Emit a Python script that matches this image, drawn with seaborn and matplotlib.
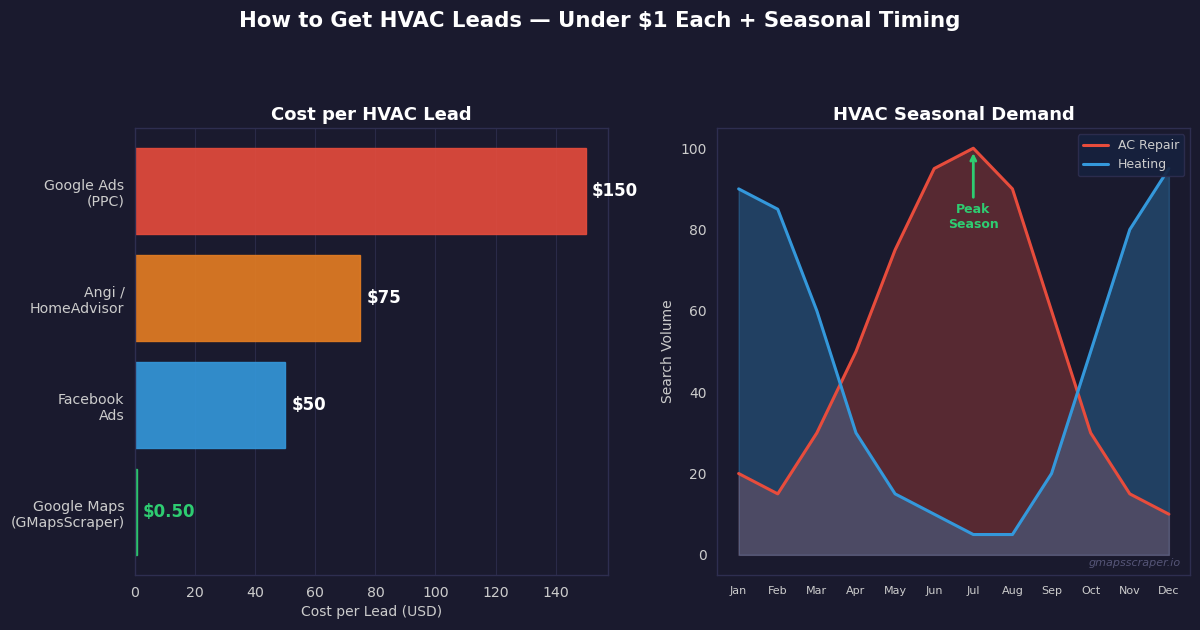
import numpy as np
import pandas as pd
import seaborn as sns
import matplotlib
matplotlib.use("Agg")
import matplotlib.pyplot as plt

# datos
canales = ["Google Ads\n(PPC)", "Angi /\nHomeAdvisor", "Facebook\nAds", "Google Maps\n(GMapsScraper)"]
costos = [150, 75, 50, 0.5]
etiquetas_costo = ["$150", "$75", "$50", "$0.50"]
colores_barras = ["#e74c3c", "#e67e22", "#3498db", "#2ecc71"]

meses = ["Jan", "Feb", "Mar", "Apr", "May", "Jun", "Jul", "Aug", "Sep", "Oct", "Nov", "Dec"]
ac_repair = [20, 15, 30, 50, 75, 95, 100, 90, 60, 30, 15, 10]
heating = [90, 85, 60, 30, 15, 10, 5, 5, 20, 50, 80, 95]

FONDO = "#1a1a2e"
BORDE = "#2e2e50"
TEXTO = "#cccccc"

sns.set_theme(style="dark")
plt.rcParams["font.family"] = ["DejaVu Sans"]

fig, (ax1, ax2) = plt.subplots(1, 2, figsize=(12, 6.3), dpi=100)
fig.patch.set_facecolor(FONDO)
fig.subplots_adjust(left=0.1125, right=0.992, top=0.797, bottom=0.087, wspace=0.23)

for ax in (ax1, ax2):
    ax.set_facecolor(FONDO)
    for s in ax.spines.values():
        s.set_color(BORDE)
        s.set_linewidth(1)
    ax.tick_params(colors=TEXTO, length=4, color=TEXTO)

# GRAFICO 1: costo por lead
df_costos = pd.DataFrame({"canal": canales, "costo": costos})
sns.barplot(data=df_costos, y="canal", x="costo", hue="canal", palette=colores_barras,
            orient="h", width=0.8, alpha=0.9, legend=False, ax=ax1, saturation=1)
for i, p in enumerate(ax1.patches):
    p.set_edgecolor(colores_barras[i])
    p.set_linewidth(1)
ax1.set_ylim(3.59, -0.59)
ax1.set_xlim(0, 157.5)
for i, (v, t) in enumerate(zip(costos, etiquetas_costo)):
    col = "#2ecc71" if i == 3 else "white"
    ax1.text(v + 2, i, t, va="center", ha="left", color=col, fontsize=12, fontweight="bold")
ax1.set_title("Cost per HVAC Lead", color="white", fontsize=13, fontweight="bold", pad=6)
ax1.set_xlabel("Cost per Lead (USD)", color=TEXTO, fontsize=10)
ax1.set_ylabel("")
ax1.xaxis.grid(True, color="#2a2a48", linewidth=0.8)
ax1.set_axisbelow(True)
ax1.tick_params(axis="both", labelsize=10.2)

# GRAFICO 2: demanda estacional
x = np.arange(len(meses))
df_dem = pd.DataFrame({"mes": x, "AC Repair": ac_repair, "Heating": heating})
ax2.fill_between(x, ac_repair, color="#e74c3c", alpha=0.3)
ax2.fill_between(x, heating, color="#3498db", alpha=0.3)
sns.lineplot(data=df_dem, x="mes", y="AC Repair", color="#e74c3c", linewidth=2.2, label="AC Repair", ax=ax2)
sns.lineplot(data=df_dem, x="mes", y="Heating", color="#3498db", linewidth=2.2, label="Heating", ax=ax2)
ax2.set_xticks(x)
ax2.set_xticklabels(meses)
ax2.tick_params(axis="x", labelsize=8)
ax2.tick_params(axis="y", labelsize=10)
ax2.set_xlabel("")
ax2.set_ylabel("Search Volume", color=TEXTO, fontsize=10)
ax2.set_title("HVAC Seasonal Demand", color="white", fontsize=13, fontweight="bold", pad=6)
ax2.set_xlim(-0.55, 11.55)
ax2.set_ylim(-5, 105)
ax2.set_yticks([0, 20, 40, 60, 80, 100])

ax2.annotate("Peak\nSeason", xy=(6, 99.5), xytext=(6, 83), ha="center", va="center",
             color="#2ecc71", fontsize=9, fontweight="bold",
             arrowprops=dict(arrowstyle="->", color="#2ecc71", lw=2))

leg = ax2.legend(loc="upper right", facecolor="#16213e", edgecolor=BORDE, fontsize=9, framealpha=0.9)
for t in leg.get_texts():
    t.set_color(TEXTO)

ax2.text(0.98, 0.015, "gmapsscraper.io", transform=ax2.transAxes, ha="right", va="bottom",
         fontsize=8, style="italic", color="#555577")

fig.suptitle("How to Get HVAC Leads \u2014 Under $1 Each + Seasonal Timing",
             color="white", fontsize=15.3, fontweight="bold", y=0.982)

plt.savefig("out.png", dpi=100, facecolor=FONDO)
